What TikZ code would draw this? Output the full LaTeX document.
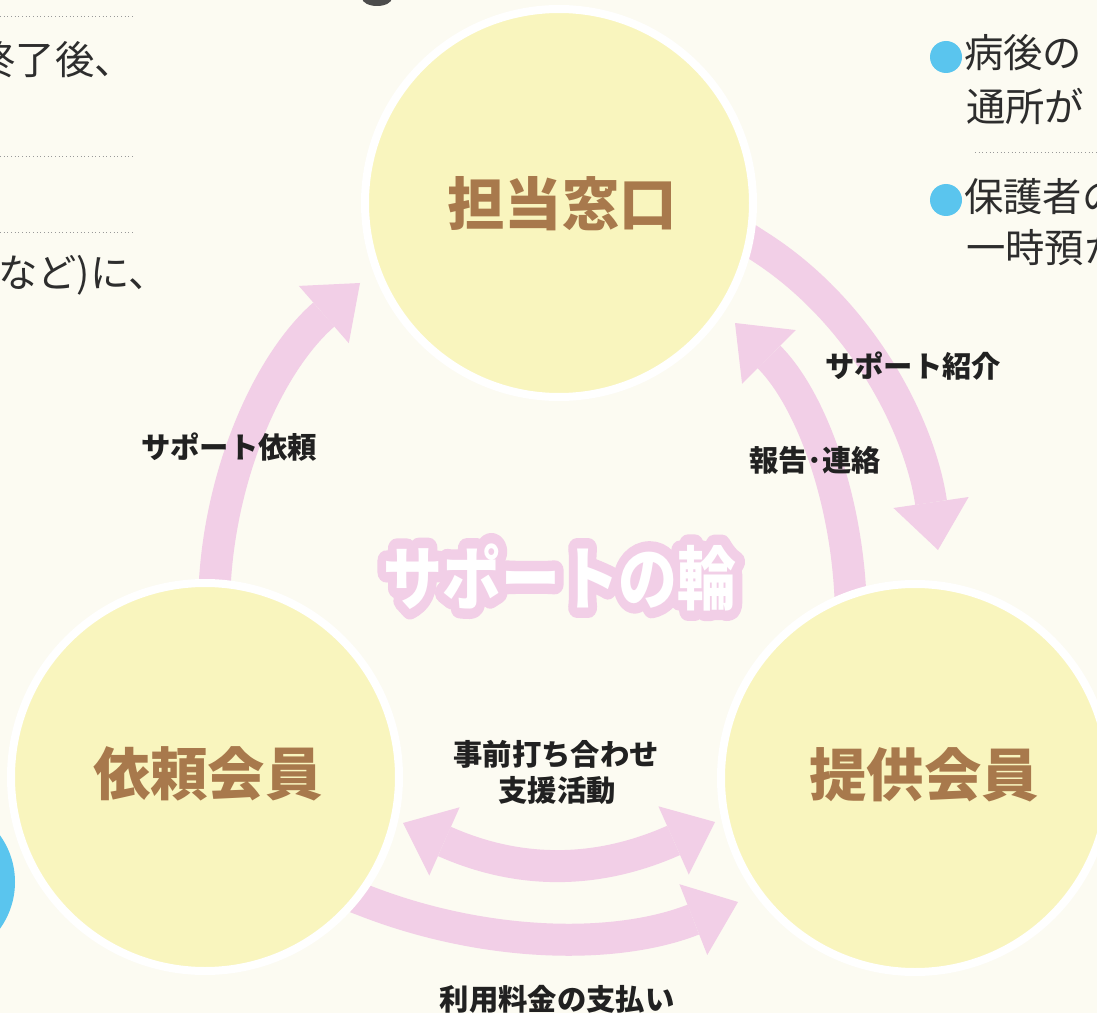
\documentclass[tikz,border=0pt]{standalone}
\usepackage{fontspec}
\usepackage{graphicx}
\setmainfont{Noto Sans CJK JP}
\newfontfamily\wastroke[BoldFeatures={FakeBold=30}]{Noto Sans CJK JP}
\usetikzlibrary{arrows.meta}
\definecolor{bgcream}{RGB}{252,251,242}
\definecolor{cyel}{RGB}{249,245,190}
\definecolor{apink}{RGB}{242,207,231}
\definecolor{tbrown}{RGB}{168,121,76}
\definecolor{skyb}{RGB}{90,197,238}
\definecolor{inkc}{RGB}{33,33,33}
\definecolor{bodyc}{RGB}{45,45,45}
\tikzset{
 bigcircle/.style={circle, fill=cyel, draw=white, line width=6pt, minimum size=291pt, inner sep=0pt},
 circtext/.style={inner sep=0pt, text=tbrown, font=\fontsize{43}{43}\selectfont\bfseries},
 lbl/.style={inner sep=0pt, text=inkc, font=\fontsize{22}{22}\selectfont\bfseries},
 bodytext/.style={inner sep=0pt, text=bodyc, font=\fontsize{29.5}{30}\selectfont},
 band/.style={draw=apink, line width=24pt, line cap=butt},
 tipA/.style={-{Triangle[width=57pt,length=36pt,line width=0pt]}},
 tipAB/.style={{Triangle[width=56pt,length=34pt,line width=0pt]}-{Triangle[width=56pt,length=34pt,line width=0pt]}},
 bulletdot/.style={circle, fill=skyb, minimum size=24pt, inner sep=0pt},
 rulerline/.style={draw=gray!80, line width=0.75pt, dotted},
 watext/.style={inner sep=0pt, font=\fontsize{52}{52}\selectfont\bfseries},
}
\begin{document}
\begin{tikzpicture}[x=0.75pt,y=-0.75pt]
\useasboundingbox (0,0) rectangle (1097,1013);
\clip (0,0) rectangle (1097,1013);
\fill[bgcream] (0,0) rectangle (1097,1013);

% fragments at the edges
\fill[black!70] (377,-2) ellipse [x radius=15, y radius=8];
\fill[skyb] (-65,882) circle [radius=80];

% dotted rules
\draw[rulerline] (0,17) -- (133,17);
\draw[rulerline] (0,157) -- (133,157);
\draw[rulerline] (0,233) -- (133,233);
\draw[rulerline] (975,153) -- (1097,153);

% arrows
\coordinate (a1s) at (214,610);
\coordinate (a1c1) at (214,485);
\coordinate (a1c2) at (266,365);
\coordinate (a1e) at (360,283);
\draw[band,tipA] (a1s) .. controls (a1c1) and (a1c2) .. (a1e);

\coordinate (a2s) at (740,234);
\coordinate (a2a) at (757,245);
\coordinate (a2c1) at (862,311);
\coordinate (a2c2) at (920,427);
\coordinate (a2e) at (938,550);
\draw[band,tipA] (a2s) -- (a2a) .. controls (a2c1) and (a2c2) .. (a2e);

\coordinate (a3s) at (851,620);
\coordinate (a3c1) at (851,509);
\coordinate (a3c2) at (813,401);
\coordinate (a3e) at (735,323);
\draw[band,tipA] (a3s) .. controls (a3c1) and (a3c2) .. (a3e);

\coordinate (a4s) at (403,823);
\coordinate (a4c1) at (520,875);
\coordinate (a4c2) at (598,874);
\coordinate (a4e) at (715,822);
\draw[band,tipAB] (a4s) .. controls (a4c1) and (a4c2) .. (a4e);

\coordinate (a5s) at (342,892);
\coordinate (a5a) at (363,900);
\coordinate (a5c1) at (485,948);
\coordinate (a5c2) at (616,950);
\coordinate (a5e) at (738,902);
\draw[band,tipA] (a5s) -- (a5a) .. controls (a5c1) and (a5c2) .. (a5e);

% circles
\node[bigcircle] (tanto) at (559,203) {};
\node[bigcircle] (irai) at (205,777) {};
\node[bigcircle] (teikyo) at (915,778) {};
\node[circtext] (tantoT) at (562,204) {担当窓口};
\node[circtext] (iraiT) at (208,774) {依頼会員};
\node[circtext] (teikyoT) at (924,775) {提供会員};

% labels
\node[lbl] (l1) at (229,447) {サポート依頼};
\node[lbl] (l2) at (913,366) {サポート紹介};
\node[lbl] (l3) at (815,460) {報告･連絡};
\node[lbl] (l4) at (556,754) {事前打ち合わせ};
\node[lbl] (l5) at (557,790) {支援活動};
\node[lbl] (l6) at (557,999) {利用料金の支払い};

% title in the middle: pink emboldened copy under a white copy
\node[watext, text=apink, line join=round] (waback) at (560,577) {\wastroke\bfseries\scalebox{0.85}[1]{サポートの輪}};
\node[watext, text=white] (wa) at (560,577) {\scalebox{0.85}[1]{サポートの輪}};

% body text fragments
\node[bodytext, anchor=east] (bt1) at (134,60) {終了後、};
\node[bodytext, anchor=east] (bt2) at (168,275) {など)に、};
\node[bulletdot] (b1) at (946,57) {};
\node[bodytext, anchor=west] (bt3) at (964,53) {病後の};
\node[bodytext, anchor=west] (bt4) at (966,106) {通所が};
\node[bulletdot] (b2) at (946,200) {};
\node[bodytext, anchor=west] (bt5) at (964,197) {保護者の};
\node[bodytext, anchor=west] (bt6) at (966,248) {一時預か};
\end{tikzpicture}
\end{document}
